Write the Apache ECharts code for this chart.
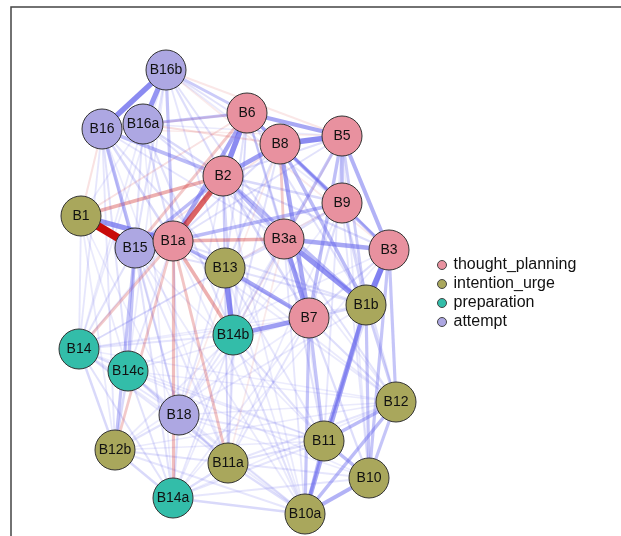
<!DOCTYPE html>
<html>
<head>
<meta charset="utf-8">
<script src="https://cdn.jsdelivr.net/npm/echarts@6/dist/echarts.min.js"></script>
<style>
  html, body { margin: 0; padding: 0; background: #fff; }
  #chart { width: 621px; height: 536px; }
</style>
</head>
<body>
<div id="chart"></div>
<script>
// groups (legend)
const groups = ["thought_planning", "intention_urge", "preparation", "attempt"];
const groupColors = ["#E8919F", "#A9A75C", "#33BDA9", "#ADA7E2"];

// nodes and their layout position
const nodeNames = ["B16b", "B16", "B16a", "B6", "B8", "B5", "B2", "B9", "B1", "B15", "B1a", "B3a", "B3",
  "B13", "B1b", "B7", "B14b", "B14", "B14c", "B12", "B18", "B11", "B12b", "B11a", "B10", "B14a", "B10a"];
const nodeGroup = [3, 3, 3, 0, 0, 0, 0, 0, 1, 3, 0, 0, 0,
  1, 1, 0, 2, 2, 2, 1, 3, 1, 1, 1, 1, 2, 1];
const nodeX = [166, 102, 143, 247, 280, 342, 223, 342, 81, 135, 173, 284, 389,
  225, 366, 309, 233, 79, 128, 396, 179, 324, 115, 228, 369, 173, 305];
const nodeY = [70, 129, 124, 113, 144, 136, 176, 203, 216, 248, 241, 239, 250,
  268, 305, 318, 335, 349, 371, 402, 415, 441, 450, 463, 478, 498, 514];

// edges: [source, target, weight] (negative = red)
const strongLinks = [
  ["B1", "B15", -0.9], ["B2", "B1a", -0.55], ["B1", "B2", -0.3], ["B1a", "B3a", -0.3],
  ["B1a", "B14b", -0.3], ["B1a", "B11a", -0.22], ["B1a", "B14a", -0.25], ["B1a", "B12b", -0.2],
  ["B1a", "B14", -0.2], ["B8", "B3a", -0.2], ["B6", "B15", -0.2],
  ["B16b", "B16", 0.55], ["B16b", "B16a", 0.5], ["B1", "B1a", 0.5], ["B6", "B2", 0.55],
  ["B6", "B1a", 0.4], ["B6", "B5", 0.4], ["B8", "B5", 0.55], ["B8", "B2", 0.45],
  ["B8", "B7", 0.4], ["B3a", "B7", 0.45], ["B3a", "B1b", 0.5], ["B3a", "B3", 0.4],
  ["B3", "B1b", 0.6], ["B13", "B14b", 0.55], ["B13", "B7", 0.4], ["B14b", "B7", 0.45],
  ["B5", "B3", 0.35], ["B5", "B9", 0.3], ["B5", "B7", 0.28], ["B5", "B3a", 0.25],
  ["B1b", "B10a", 0.4], ["B1b", "B11", 0.35], ["B12", "B10a", 0.3], ["B11", "B10", 0.3],
  ["B10", "B10a", 0.35], ["B11", "B12", 0.3], ["B12", "B3", 0.25], ["B9", "B1a", 0.3],
  ["B2", "B15", 0.3], ["B16", "B2", 0.3], ["B16a", "B6", 0.25], ["B16b", "B6", 0.22],
  ["B16", "B15", 0.3], ["B16b", "B1a", 0.25], ["B15", "B14c", 0.25], ["B15", "B12b", 0.25],
  ["B1a", "B13", 0.3], ["B2", "B3a", 0.3], ["B2", "B1b", 0.3], ["B8", "B1b", 0.3],
  ["B6", "B9", 0.25], ["B6", "B3", 0.25], ["B7", "B10a", 0.25], ["B7", "B11", 0.25],
  ["B3", "B10", 0.25], ["B1b", "B10", 0.25], ["B11", "B10a", 0.3], ["B12", "B10", 0.25]
];
const weakLinks = [
  ["B16b", "B2", 0.12], ["B16b", "B8", 0.1], ["B16b", "B3a", 0.1], ["B16b", "B15", 0.1],
  ["B16b", "B14c", 0.06], ["B16b", "B14", 0.06], ["B16b", "B13", 0.08], ["B16b", "B9", 0.06],
  ["B16", "B1a", 0.15], ["B16", "B13", 0.1], ["B16", "B14", 0.08], ["B16", "B14c", 0.1],
  ["B16", "B12b", 0.08], ["B16", "B3a", 0.08], ["B16", "B18", 0.06],
  ["B16a", "B2", 0.15], ["B16a", "B1a", 0.12], ["B16a", "B3a", 0.1], ["B16a", "B14b", 0.1],
  ["B16a", "B15", 0.1], ["B16a", "B14", 0.06], ["B16a", "B5", 0.06],
  ["B6", "B3a", 0.15], ["B6", "B13", 0.1], ["B6", "B7", 0.12], ["B6", "B1b", 0.1], ["B6", "B14b", 0.08],
  ["B8", "B9", 0.15], ["B8", "B3", 0.15], ["B8", "B13", 0.1], ["B8", "B14b", 0.1], ["B8", "B1a", 0.12],
  ["B5", "B2", 0.12], ["B5", "B1a", 0.1], ["B5", "B1b", 0.2],
  ["B2", "B9", 0.15], ["B2", "B13", 0.12], ["B2", "B7", 0.15], ["B2", "B14b", 0.15], ["B2", "B3", 0.12],
  ["B2", "B11a", 0.06], ["B2", "B18", 0.06], ["B2", "B14", 0.06],
  ["B9", "B3a", 0.12], ["B9", "B3", 0.15], ["B9", "B1b", 0.15], ["B9", "B7", 0.12], ["B9", "B12", 0.1], ["B9", "B10", 0.08],
  ["B1", "B14", 0.08], ["B1", "B14c", 0.06], ["B1", "B12b", 0.06], ["B1", "B18", 0.05], ["B1", "B16a", 0.05],
  ["B15", "B14", 0.1], ["B15", "B18", 0.12], ["B15", "B14a", 0.1], ["B15", "B11a", 0.08], ["B15", "B13", 0.1],
  ["B1a", "B18", 0.1], ["B1a", "B14c", 0.08], ["B1a", "B7", 0.12], ["B1a", "B1b", 0.1],
  ["B3a", "B13", 0.12], ["B3a", "B14b", 0.12], ["B3a", "B11", 0.1], ["B3a", "B12", 0.1], ["B3a", "B10a", 0.08],
  ["B3", "B11", 0.12], ["B3", "B7", 0.12],
  ["B13", "B11a", 0.08], ["B13", "B18", 0.08], ["B13", "B14", 0.06], ["B13", "B1b", 0.1], ["B13", "B10a", 0.06], ["B13", "B11", 0.08],
  ["B1b", "B7", 0.15], ["B1b", "B12", 0.2],
  ["B7", "B12", 0.12], ["B7", "B10", 0.12], ["B7", "B14a", 0.06], ["B7", "B11a", 0.08],
  ["B14b", "B11a", 0.1], ["B14b", "B18", 0.08], ["B14b", "B14a", 0.08], ["B14b", "B11", 0.1],
  ["B14b", "B10a", 0.1], ["B14b", "B12b", 0.06], ["B14b", "B14", 0.08],
  ["B14", "B14c", 0.12], ["B14", "B12b", 0.15], ["B14", "B18", 0.08], ["B14", "B14a", 0.1], ["B14", "B11a", 0.08],
  ["B14", "B10a", 0.06], ["B14", "B11", 0.05], ["B14", "B12", 0.05], ["B14", "B7", 0.05],
  ["B14c", "B12b", 0.15], ["B14c", "B18", 0.12], ["B14c", "B14a", 0.1], ["B14c", "B11a", 0.1],
  ["B14c", "B10a", 0.06], ["B14c", "B11", 0.06], ["B14c", "B10", 0.05], ["B14c", "B12", 0.05],
  ["B18", "B12b", 0.1], ["B18", "B14a", 0.12], ["B18", "B11a", 0.1], ["B18", "B11", 0.08],
  ["B18", "B10a", 0.06], ["B18", "B12", 0.06], ["B18", "B10", 0.05],
  ["B12b", "B14a", 0.15], ["B12b", "B11a", 0.1], ["B12b", "B10a", 0.08], ["B12b", "B11", 0.06], ["B12b", "B12", 0.06],
  ["B11a", "B14a", 0.12], ["B11a", "B10a", 0.12], ["B11a", "B11", 0.1], ["B11a", "B10", 0.08], ["B11a", "B12", 0.08],
  ["B14a", "B10a", 0.15], ["B14a", "B11", 0.08], ["B14a", "B10", 0.08], ["B14a", "B12", 0.05],
  ["B15", "B11", 0.06], ["B15", "B10a", 0.06], ["B1a", "B10a", 0.06], ["B1a", "B12", 0.06],
  ["B13", "B12", 0.06], ["B16", "B11a", 0.05], ["B16a", "B14a", 0.05], ["B2", "B10a", 0.06],
  ["B2", "B12", 0.06], ["B8", "B11", 0.06], ["B5", "B11", 0.08], ["B5", "B10", 0.06],
  ["B6", "B11a", 0.05], ["B9", "B14", 0.05], ["B3", "B14c", 0.05], ["B3", "B14a", 0.05],
  ["B1b", "B14", 0.05], ["B1b", "B18", 0.06], ["B7", "B14c", 0.06], ["B7", "B12b", 0.05],
  ["B3a", "B14a", 0.06], ["B3a", "B18", 0.06], ["B9", "B11a", 0.06], ["B9", "B18", 0.05],
  ["B16", "B6", -0.12], ["B16a", "B8", -0.12], ["B16b", "B5", -0.08], ["B16b", "B3", -0.06],
  ["B1", "B16", -0.1], ["B1", "B6", -0.1], ["B15", "B8", -0.08], ["B13", "B9", -0.06],
  ["B14b", "B5", -0.06], ["B11a", "B3a", -0.06], ["B18", "B8", -0.06], ["B16", "B5", -0.06]
];

const allLinks = weakLinks.concat(strongLinks)
  .slice()
  .sort((a, b) => Math.abs(a[2]) - Math.abs(b[2]));

const chart = echarts.init(document.getElementById("chart"));

const nodes = nodeNames.map((name, i) => ({
  name: name,
  x: nodeX[i],
  y: nodeY[i],
  category: nodeGroup[i]
}));

const links = allLinks.map((l) => {
  const w = Math.abs(l[2]);
  const pos = l[2] > 0;
  return {
    source: l[0],
    target: l[1],
    lineStyle: {
      color: pos ? "rgb(100,100,236)" : "rgb(200,10,10)",
      opacity: pos ? Math.min(0.95, 0.06 + w * 1.25) : Math.min(1, 0.04 + Math.pow(w, 1.2) * 1.2),
      width: 1.3 + w * 7.5
    }
  };
});

chart.setOption({
  animation: false,
  backgroundColor: "#fff",
  graphic: [
    {
      type: "polyline",
      shape: { points: [[11, 540], [11, 7], [625, 7]] },
      style: { stroke: "#444", lineWidth: 1.5, fill: null }
    }
  ],
  legend: {
    orient: "vertical",
    left: 432,
    top: 252,
    itemWidth: 9,
    itemHeight: 9,
    itemGap: 3,
    icon: "circle",
    itemStyle: { borderColor: "#444", borderWidth: 1 },
    textStyle: {
      fontSize: 16,
      color: "#111",
      fontFamily: "Liberation Sans, Arial, sans-serif",
      padding: [0, 0, 0, 2]
    },
    data: groups
  },
  series: [
    {
      type: "graph",
      layout: "none",
      left: 79,
      top: 70,
      width: 317,
      height: 444,
      roam: false,
      silent: true,
      symbol: "circle",
      symbolSize: 40,
      categories: groups.map((g, i) => ({
        name: g,
        itemStyle: { color: groupColors[i] }
      })),
      itemStyle: { borderColor: "#333", borderWidth: 1 },
      label: {
        show: true,
        position: "inside",
        color: "#111",
        fontSize: 14,
        fontFamily: "Liberation Sans, Arial, sans-serif"
      },
      lineStyle: { curveness: 0 },
      emphasis: { disabled: true },
      data: nodes,
      links: links
    }
  ]
});
</script>
</body>
</html>
